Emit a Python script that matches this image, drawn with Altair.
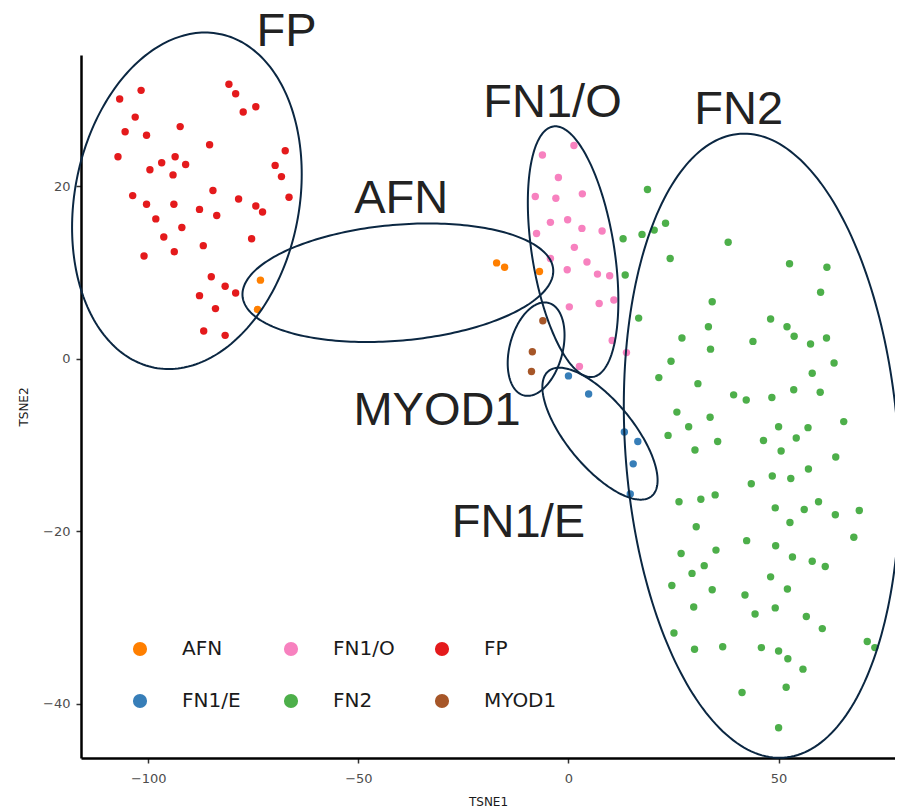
import altair as alt
import numpy as np
import pandas as pd

# ---------------- data ----------------
group_order = ["AFN", "FN1/E", "FN1/O", "FN2", "FP", "MYOD1"]
group_colors = ["#FF7F00", "#377EB8", "#F781BF", "#4DAF4A", "#E41A1C", "#A65628"]

fp_x = [-106.8, -101.7, -80.8, -79.2, -77.4, -74.4, -103.1, -105.5, -100.4, -92.4,
        -85.4, -67.4, -107.2, -96.8, -93.6, -91.1, -99.6, -94.1, -69.8, -68.3,
        -84.6, -103.7, -100.4, -93.9, -87.8, -83.7, -78.5, -74.4, -72.8, -66.5,
        -98.2, -92.0, -96.3, -75.4, -101.0, -93.8, -86.9, -85.0, -81.7, -79.2,
        -87.8, -84.0, -86.8, -81.7]
fp_y = [30.1, 31.1, 31.8, 30.7, 28.6, 29.2, 28.0, 26.3, 25.9, 26.9,
        24.8, 24.1, 23.4, 22.7, 23.4, 22.5, 21.9, 21.3, 22.4, 21.1,
        19.5, 18.9, 17.9, 17.9, 17.3, 16.6, 18.5, 17.7, 17.0, 18.7,
        16.2, 15.2, 14.1, 13.9, 11.9, 12.4, 13.1, 9.5, 8.4, 7.6,
        7.3, 5.8, 3.2, 2.7]

afn_x = [-73.3, -74.0, -17.1, -15.2, -6.9]
afn_y = [9.1, 5.7, 11.1, 10.6, 10.1]

myod1_x = [-6.1, -8.6, -8.8]
myod1_y = [4.4, 0.8, -1.5]

fn1o_x = [1.3, -6.2, -2.4, -7.9, -3.0, 3.3, -4.3, -0.2, -7.6, 3.2,
          8.0, 1.4, -4.3, -0.3, 4.4, 6.9, 9.8, 7.3, 10.8, 0.2,
          10.4, 13.8, 2.6]
fn1o_y = [24.7, 23.6, 21.0, 18.8, 18.6, 19.1, 15.8, 16.1, 14.5, 15.1,
          14.8, 12.9, 11.6, 10.3, 11.2, 9.8, 9.6, 6.4, 6.8, 6.0,
          2.1, 0.7, -0.9]

fn1e_x = [0.0, 4.8, 13.3, 16.5, 15.4, 14.7]
fn1e_y = [-2.0, -4.1, -8.5, -9.6, -12.2, -15.7]

fn2_x = [18.8, 23.1, 20.4, 17.5, 13.0, 38.0, 24.2, 52.6, 61.5, 13.5,
         60.0, 34.2, 16.7, 48.1, 33.3, 52.0, 27.0, 53.7, 43.9, 57.6,
         61.4, 33.8, 24.4, 63.2, 58.0, 21.5, 30.8, 53.6, 59.9, 39.3,
         42.3, 48.4, 25.8, 33.7, 28.6, 50.0, 57.0, 65.5, 23.7, 35.5,
         46.4, 54.2, 30.1, 50.6, 63.6, 57.1, 48.5, 52.9, 43.5, 26.3,
         31.5, 34.9, 49.2, 56.1, 59.5, 63.5, 69.2, 52.7, 30.4, 67.9,
         42.4, 49.3, 26.8, 35.1, 53.3, 58.0, 61.1, 32.3, 29.4, 48.1,
         24.6, 34.2, 52.1, 42.0, 29.8, 49.2, 44.4, 56.6, 60.4, 25.1,
         30.0, 36.7, 45.9, 50.0, 52.2, 55.8, 71.1, 72.9, 41.3, 51.8,
         50.0]
fn2_y = [19.6, 15.7, 14.9, 14.4, 13.9, 13.5, 11.6, 11.0, 10.6, 9.7,
         7.7, 6.6, 4.7, 4.6, 3.7, 3.7, 2.4, 2.6, 2.0, 1.7,
         2.4, 1.1, -0.3, -0.5, -1.7, -2.2, -2.9, -3.6, -3.9, -4.2,
         -4.8, -4.5, -6.2, -6.8, -7.9, -7.9, -8.0, -7.3, -8.9, -9.6,
         -9.5, -9.2, -10.6, -10.7, -11.4, -12.8, -13.6, -13.9, -14.5, -16.6,
         -16.3, -15.8, -17.3, -17.5, -16.6, -18.1, -17.6, -19.0, -19.5, -20.7,
         -21.1, -21.7, -22.6, -22.2, -23.0, -23.5, -24.1, -24.0, -24.9, -25.3,
         -26.3, -26.8, -26.7, -27.4, -28.8, -28.9, -29.6, -29.9, -31.3, -31.8,
         -33.7, -33.4, -33.5, -33.9, -34.8, -36.0, -32.8, -33.5, -38.7, -38.1,
         -42.8]

# Annotation ellipses (centre in data units, semi-axes in TSNE1 units, angle in degrees)
ell_names = ["FP", "AFN", "FN1/O", "FN2", "MYOD1", "FN1/E"]
ell_cx = [-90.8, -40.6, 1.1, 46.0, -7.7, 7.5]
ell_cy = [18.3, 8.8, 12.4, -10.1, 1.1, -8.7]
ell_a = [40.5, 37.1, 30.2, 74.5, 11.4, 19.3]
ell_b = [26.7, 13.8, 9.8, 32.5, 6.3, 7.9]
ell_angle = [79, 5, 99, 94, 75, -50.5]
ASPECT = 2.055  # screen ratio between one TSNE2 unit and one TSNE1 unit

# Big cluster labels
lab_text = ["FP", "FN1/O", "FN2", "AFN", "MYOD1", "FN1/E"]
lab_x = [-67.1, -3.8, 40.5, -39.8, -31.3, -11.9]
lab_y = [36.2, 28.0, 27.2, 16.9, -7.7, -20.7]

x_ticks = [-100, -50, 0, 50]
y_ticks = [-40, -20, 0, 20]

# ---------------- tables ----------------
frames = []
for name, xs, ys in [("FP", fp_x, fp_y), ("AFN", afn_x, afn_y), ("MYOD1", myod1_x, myod1_y),
                     ("FN1/O", fn1o_x, fn1o_y), ("FN1/E", fn1e_x, fn1e_y), ("FN2", fn2_x, fn2_y)]:
    frames.append(pd.DataFrame({"TSNE1": xs, "TSNE2": ys, "group": name}))
pts = pd.concat(frames, ignore_index=True)

rows = []
t = np.linspace(0, 2 * np.pi, 241)
for n, cx, cy, a, b, ang in zip(ell_names, ell_cx, ell_cy, ell_a, ell_b, ell_angle):
    th = np.deg2rad(ang)
    dx = a * np.cos(t) * np.cos(th) - b * np.sin(t) * np.sin(th)
    dy = a * np.cos(t) * np.sin(th) + b * np.sin(t) * np.cos(th)
    for i, (u, v) in enumerate(zip(dx, dy)):
        rows.append({"name": n, "i": i, "ex": cx + u, "ey": cy + v / ASPECT})
ell = pd.DataFrame(rows)

labs = pd.DataFrame({"label": lab_text, "lx": lab_x, "ly": lab_y})

# ---------------- chart ----------------
xscale = alt.Scale(domain=[-116, 77.7], nice=False, zero=False)
yscale = alt.Scale(domain=[-46.3, 35.2], nice=False, zero=False)

xaxis = alt.Axis(values=x_ticks, title="TSNE1")
yaxis = alt.Axis(values=y_ticks, title="TSNE2")

points = alt.Chart(pts).mark_circle(size=55, opacity=1).encode(
    x=alt.X("TSNE1:Q", scale=xscale, axis=xaxis),
    y=alt.Y("TSNE2:Q", scale=yscale, axis=yaxis),
    color=alt.Color(
        "group:N",
        scale=alt.Scale(domain=group_order, range=group_colors),
        legend=alt.Legend(
            title=None, orient="none", legendX=49, legendY=584, columns=3,
            gridAlign="all", symbolType="circle", symbolSize=200,
            labelFont="DejaVu Sans", labelFontSize=20, labelColor="#1a1a1a",
            labelOffset=32, columnPadding=26, rowPadding=32, padding=0,
            symbolStrokeWidth=0, symbolOpacity=1,
        ),
    ),
)

ellipses = alt.Chart(ell).mark_line(color="#0b2742", strokeWidth=2, clip=False).encode(
    x=alt.X("ex:Q", scale=xscale, axis=xaxis),
    y=alt.Y("ey:Q", scale=yscale, axis=yaxis),
    detail="name:N",
    order="i:Q",
)

texts = alt.Chart(labs).mark_text(
    font="Liberation Sans", fontSize=47, color="#222222", align="center",
    baseline="alphabetic",
).encode(
    x=alt.X("lx:Q", scale=xscale, axis=xaxis),
    y=alt.Y("ly:Q", scale=yscale, axis=yaxis),
    text="label:N",
)

chart = alt.layer(points, ellipses, texts).properties(
    width=814, height=703,
    autosize=alt.AutoSizeParams(type="none"),
    padding={"left": 73, "top": 47, "right": 0, "bottom": 50},
).configure_view(stroke=None).configure_axis(
    grid=False, domainColor="#000000", domainWidth=2.5,
    tickColor="#333333", tickWidth=1.5, tickSize=5,
    labelColor="#4d4d4d", labelFont="DejaVu Sans", labelFontSize=13,
    titleFont="DejaVu Sans", titleFontSize=12, titleFontWeight="normal", titleColor="#1a1a1a",
).configure_axisX(labelPadding=9, titlePadding=11).configure_axisY(labelPadding=6, titlePadding=12)

chart.save("out.html", embed_options={"renderer": "svg", "actions": False})
